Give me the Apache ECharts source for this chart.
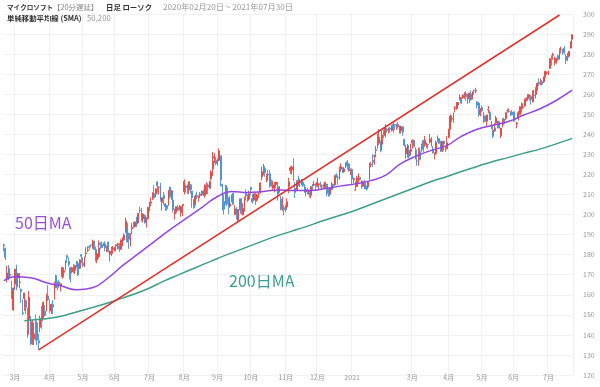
<!DOCTYPE html>
<html><head><meta charset="utf-8">
<script src="https://cdn.jsdelivr.net/npm/echarts@6/dist/echarts.min.js"></script>
<style>html,body{margin:0;padding:0;background:#fff}#c{width:600px;height:387px}</style>
</head><body><div id="c"></div>
<script>
// ---- categories (US trading days) ----
const startDate = '2020-02-20', endDate = '2021-07-23';
const holidays = ['2020-04-10','2020-05-25','2020-07-03','2020-09-07','2020-11-26','2020-12-25',
  '2021-01-01','2021-01-18','2021-02-15','2021-04-02','2021-05-31','2021-07-05'];
const hiddenMonthLabels = ['2021-02'];
const yTicks = {min: 120, max: 300, step: 10};

// ---- daily candles [open, close, low, high] ----
const candles = [
// 2020-02
[185.0,184.4,181.6,185.6],[183.2,178.6,177.3,183.5],[167.8,170.9,166.1,174.6],[174.2,168.1,167.3,174.8],[169.7,170.2,168.0,173.1],[163.3,158.2,158.1,167.0],[152.4,162.0,152.0,163.7],
// 2020-03
[165.3,172.8,162.3,172.9],[173.8,164.5,162.2,175.0],[168.5,170.6,163.8,170.7],[166.1,166.3,163.2,170.9],[162.6,161.6,156.0,163.1],[151.0,150.6,149.8,157.8],[158.2,160.9,152.0,161.0],[157.1,153.6,150.3,157.7],[145.3,139.1,138.6,153.5],[147.5,158.8,140.0,161.9],[140.0,135.4,135.0,149.4],[140.0,146.6,135.0,147.5],[138.0,140.4,135.0,146.0],[142.8,142.7,137.0,150.2],[146.0,137.4,135.0,147.1],[137.0,136.0,132.5,140.6],[143.8,148.3,141.3,149.6],[148.9,146.9,143.0,154.3],[148.4,156.1,148.4,156.7],[151.8,149.7,149.2,154.9],[152.4,160.2,151.7,160.6],[159.4,157.7,156.9,164.8],
// 2020-04
[153.0,152.1,150.8,157.8],[151.9,155.3,150.4,155.5],[155.1,153.8,150.4,157.4],[160.3,165.3,157.6,166.5],[169.6,163.5,163.3,170.0],[165.7,165.1,162.3,166.7],[166.4,165.1,163.5,167.4],[164.4,165.5,161.6,165.6],[169.0,173.7,168.0,173.8],[171.2,171.9,168.6,173.6],[174.3,177.0,172.1,177.1],[179.5,178.6,175.9,180.0],[176.6,175.1,174.0,178.7],[173.5,167.8,166.1,173.7],[171.4,173.5,170.7,174.0],[174.1,171.4,170.8,175.3],[172.1,174.6,170.3,175.0],[176.6,174.1,173.4,176.9],[175.6,169.8,169.4,175.7],[173.2,177.4,172.9,177.7],[180.0,179.2,175.9,180.4],
// 2020-05
[175.8,174.6,173.8,178.6],[174.5,178.8,173.8,179.0],[180.6,180.8,178.6,183.7],[182.1,182.5,181.2,184.2],[184.2,183.6,182.6,184.6],[184.9,184.7,183.6,185.0],[183.2,186.7,183.0,187.5],[186.8,182.5,182.5,187.0],[182.6,179.8,176.5,184.0],[177.5,180.5,175.7,180.7],[179.1,183.2,178.1,187.1],[185.8,184.9,182.7,186.2],[185.0,183.6,183.5,186.6],[184.8,185.7,184.3,186.0],[185.4,183.4,181.6,186.7],[183.2,183.5,181.3,184.5],[186.3,181.6,181.1,186.5],[180.2,181.8,176.6,181.8],[180.7,181.4,179.2,184.1],[182.7,183.3,180.4,184.3],
// 2020-06
[182.5,182.8,181.6,183.8],[184.3,184.9,181.8,185.0],[184.8,185.4,182.6,185.9],[184.3,182.9,181.3,185.8],[182.6,187.2,182.6,187.7],[185.9,188.4,184.2,188.6],[187.5,189.8,186.8,190.7],[191.1,196.8,191.0,198.5],[193.1,186.3,186.1,195.8],[190.5,187.7,182.9,191.0],[184.6,188.9,184.0,190.8],[192.9,193.6,190.3,195.8],[195.0,194.2,193.4,196.4],[194.0,196.3,193.5,196.5],[198.6,195.2,193.8,198.9],[195.8,200.6,195.8,200.8],[202.1,201.9,200.9,203.9],[201.6,197.8,196.6,203.3],[197.8,200.3,196.0,200.6],[199.7,196.3,195.4,199.9],[196.0,198.4,193.5,198.5],[197.9,203.5,197.9,204.0],
// 2020-07
[203.1,204.7,201.6,206.4],[205.7,206.3,204.0,208.6],[208.8,210.7,207.2,211.1],[210.4,208.3,207.9,214.7],[210.1,212.8,208.6,213.3],[216.3,214.3,210.9,216.4],[213.6,213.7,210.0,214.1],[214.5,207.1,206.5,215.8],[206.1,208.4,202.0,208.5],[209.6,208.0,204.9,211.3],[205.4,203.9,201.8,205.7],[204.5,202.9,201.9,204.9],[205.0,211.6,204.3,212.3],[213.7,208.8,208.0,213.9],[209.2,211.8,207.3,212.3],[207.2,202.5,201.0,210.9],[200.4,201.3,197.5,202.9],[201.5,203.9,200.8,204.0],[203.6,202.0,201.9,204.7],[202.5,204.1,202.1,204.7],[201.0,203.9,198.9,204.5],[204.4,205.0,199.3,205.1],
// 2020-08
[211.5,216.5,210.0,217.6],[214.2,213.3,211.1,214.8],[214.9,212.9,210.3,215.0],[212.3,216.4,210.3,216.4],[214.9,212.5,210.5,215.0],[211.7,208.3,203.4,211.7],[207.2,203.4,202.9,207.7],[205.3,209.2,204.5,210.0],[209.4,208.7,207.6,211.4],[208.8,208.9,206.4,209.6],[209.6,210.3,208.1,211.2],[210.5,211.5,209.2,212.0],[211.5,209.7,209.3,212.4],[209.5,214.6,208.4,215.0],[212.0,213.0,210.2,216.1],[214.8,213.7,210.1,215.6],[213.1,216.5,212.9,216.6],[217.9,221.2,216.9,222.1],[222.9,226.6,219.1,231.2],[228.2,228.9,225.6,230.6],[227.0,225.5,224.6,228.7],
// 2020-09
[225.5,227.3,224.4,228.0],[227.0,231.7,226.6,232.9],[229.3,217.3,214.0,229.3],[215.1,214.3,202.0,215.4],[206.5,202.7,200.0,210.0],[207.6,211.3,204.9,214.8],[213.4,205.4,204.2,214.7],[207.2,204.0,200.2,208.6],[204.2,205.4,203.4,209.2],[208.4,208.8,206.1,210.0],[210.6,205.1,205.0,210.9],[200.1,202.9,199.6,204.7],[202.8,200.4,197.5,203.7],[197.2,202.5,196.0,202.7],[205.1,207.4,202.1,208.1],[207.9,200.6,200.0,208.1],[199.9,203.2,199.6,205.6],[203.6,207.8,201.4,209.0],[210.9,209.4,206.9,212.6],[209.4,207.3,206.1,210.1],[207.7,210.3,207.0,211.9],
// 2020-10
[213.5,212.5,209.7,213.9],[208.0,206.2,205.5,210.2],[207.2,210.4,206.6,210.4],[208.8,205.9,204.8,210.8],[207.1,209.8,206.4,210.4],[210.5,210.6,208.3,211.2],[211.2,215.8,210.5,215.9],[218.8,221.4,217.1,223.9],[222.7,222.9,219.5,225.2],[223.0,220.9,218.8,224.2],[217.1,219.7,216.1,220.4],[220.2,219.7,219.1,222.3],[220.4,214.2,213.3,222.3],[215.8,214.7,213.6,217.4],[213.1,214.8,212.3,216.9],[213.9,214.9,211.1,216.1],[215.0,216.2,213.2,216.3],[213.9,210.1,207.0,216.3],[211.6,213.3,210.9,214.2],[207.7,202.7,202.1,209.3],[204.1,204.7,201.8,208.9],[203.5,202.5,199.6,204.6],
// 2020-11
[204.3,202.3,201.1,205.0],[203.9,206.4,203.0,208.1],[214.0,216.4,210.6,218.3],[222.0,223.3,220.3,224.1],[222.3,223.7,220.0,224.4],[224.5,218.4,216.8,228.1],[213.0,211.0,208.3,216.3],[212.4,216.6,212.4,217.0],[217.2,215.4,214.2,219.4],[216.4,216.5,213.8,217.8],[214.9,217.2,214.6,217.7],[216.1,214.5,213.8,217.7],[213.7,211.1,211.0,215.2],[211.4,212.4,209.1,213.0],[212.2,210.4,210.1,213.3],[210.9,210.1,208.5,212.3],[209.6,213.9,208.1,214.3],[215.1,213.9,211.9,215.3],[214.8,215.2,214.2,216.8],[214.1,214.1,211.8,215.6],
// 2020-12
[214.5,216.2,213.7,218.4],[214.9,215.4,212.6,215.5],[214.6,214.2,213.5,216.4],[214.2,214.4,212.5,215.0],[214.4,214.3,213.2,215.5],[213.5,216.0,212.9,216.5],[215.2,211.8,209.1,215.2],[211.8,210.5,208.9,213.1],[210.1,213.3,209.1,213.3],[213.1,214.2,212.1,216.2],[215.2,214.1,212.2,215.4],[214.8,219.3,214.5,219.6],[219.9,219.4,218.2,220.6],[218.6,218.6,214.8,219.6],[217.6,222.6,217.3,224.0],[222.7,223.9,221.2,225.6],[223.1,221.0,220.8,223.6],[221.4,222.8,221.2,223.6],[224.5,225.0,223.2,226.0],[226.3,224.2,222.4,227.2],[225.2,221.7,221.5,225.6],[221.7,222.4,219.7,223.0],
// 2021-01
[222.5,217.7,214.8,223.0],[217.3,217.9,215.5,218.5],[212.2,212.3,211.9,216.5],[214.0,218.3,213.7,219.3],[218.7,219.6,216.0,220.6],[218.5,217.5,216.9,218.9],[216.5,214.9,212.9,217.1],[214.0,216.3,213.9,216.8],[215.9,213.0,212.6,217.5],[213.5,212.7,212.0,214.5],[213.8,216.4,212.6,216.8],[217.7,224.3,217.3,225.8],[224.7,225.0,223.5,226.3],[227.1,226.0,223.7,230.1],[229.1,229.5,224.8,229.8],[231.9,232.3,228.6,234.2],[238.0,238.9,232.8,240.4],[235.6,238.5,234.6,242.6],[235.9,232.0,231.1,236.9],
// 2021-02
[235.1,239.7,232.4,242.3],[241.3,239.5,238.2,242.3],[239.6,243.0,238.4,245.1],[242.7,242.0,240.8,243.2],[242.2,242.2,240.4,243.3],[243.2,242.5,240.8,243.7],[241.9,243.8,241.4,244.8],[245.0,242.8,240.8,245.9],[244.8,244.5,242.1,245.2],[243.9,245.0,242.2,245.3],[245.0,243.7,242.8,246.1],[241.3,244.2,240.4,244.3],[241.8,243.8,240.4,243.9],[243.8,241.0,239.3,243.9],[237.4,234.5,233.9,237.9],[230.3,233.3,227.9,234.8],[230.0,234.6,228.3,235.2],[232.1,229.0,228.0,234.6],[231.5,232.4,229.4,235.4],
// 2021-03
[235.9,236.9,232.9,237.5],[237.0,233.9,233.8,237.3],[232.2,227.6,227.5,233.6],[226.7,226.7,224.3,232.5],[229.5,231.6,224.3,233.4],[231.4,227.4,227.1,233.4],[232.9,233.8,231.4,235.4],[237.0,232.4,231.1,237.0],[234.9,237.1,233.8,239.2],[234.0,235.8,233.2,235.8],[234.9,234.8,232.5,235.2],[236.2,237.7,235.4,240.1],[236.2,237.0,233.9,238.6],[232.6,230.7,230.5,234.2],[229.5,230.4,227.5,231.0],[230.3,236.0,229.9,236.8],[237.5,237.6,236.2,239.4],[237.9,235.5,235.4,238.0],[235.3,232.3,231.1,236.9],[231.6,236.5,231.2,236.7],[236.6,235.2,231.9,236.8],[233.5,231.9,231.1,233.9],[232.9,235.8,232.4,239.1],
// 2021-04
[238.5,242.4,238.1,242.8],[242.8,249.1,242.2,249.9],[247.6,247.9,246.1,249.4],[247.8,249.9,245.7,250.9],[252.8,253.3,251.0,254.1],[252.9,255.9,252.2,256.0],[254.7,255.9,253.6,256.0],[257.3,258.5,256.9,259.9],[257.5,255.6,255.1,258.8],[258.3,259.5,257.7,260.0],[259.5,260.7,257.8,261.0],[260.2,258.7,256.8,261.5],[257.8,258.3,255.2,260.2],[258.1,260.6,255.6,260.7],[260.2,257.2,256.8,261.8],[257.9,261.2,257.3,261.5],[261.7,261.6,259.7,262.4],[261.6,262.0,260.5,263.2],[256.1,254.6,252.9,256.5],[255.5,252.5,248.7,256.1],[249.7,252.2,249.0,253.1],
// 2021-05
[253.4,251.9,251.1,254.4],[250.0,247.8,245.6,251.2],[249.1,246.5,246.3,249.5],[246.5,249.7,244.2,249.8],[252.2,252.5,250.5,254.1],[250.9,247.2,247.1,251.7],[244.6,246.2,242.6,246.6],[242.2,239.0,238.1,244.4],[241.8,243.0,241.2,245.6],[245.6,248.2,245.3,249.2],[246.6,245.2,243.0,246.6],[246.3,243.1,242.9,246.4],[239.3,243.1,238.1,243.2],[243.9,246.5,243.4,247.9],[247.6,245.2,244.8,248.3],[247.8,250.8,247.1,251.2],[251.8,251.7,250.8,252.8],[251.4,251.5,250.8,252.9],[251.2,249.3,249.1,251.5],[251.0,249.7,249.6,252.1],
// 2021-06
[251.2,247.4,246.3,251.3],[248.1,247.3,246.3,248.9],[245.2,245.7,243.0,246.3],[247.8,250.8,246.9,251.7],[249.9,253.8,249.8,254.0],[255.2,252.6,250.8,256.0],[253.4,253.6,252.5,255.5],[254.3,257.2,253.6,257.8],[257.4,257.9,256.5,258.5],[257.9,259.9,256.7,259.9],[259.8,258.4,256.8,260.0],[258.9,257.4,254.8,259.6],[256.1,260.9,256.0,262.0],[259.6,259.4,258.8,262.3],[259.8,262.6,257.9,263.5],[262.7,265.5,261.8,265.8],[265.9,265.3,264.0,267.9],[266.2,266.7,264.5,267.8],[266.2,265.0,264.3,267.2],[266.2,268.7,265.5,268.9],[269.0,271.4,268.1,271.7],[270.7,270.9,269.7,271.4],
// 2021-07
[269.6,271.6,269.6,271.8],[272.8,277.7,272.8,278.0],[278.0,277.7,274.3,279.4],[279.4,279.9,277.2,280.7],[276.9,277.4,274.3,278.7],[275.7,277.9,275.2,278.1],[279.2,277.3,276.6,279.8],[277.5,281.0,277.3,282.9],[282.4,282.5,280.3,283.7],[282.0,281.0,279.5,282.5],[282.9,280.8,280.0,284.1],[278.9,277.0,275.0,280.0],[278.0,279.3,276.5,280.7],[278.9,281.4,278.2,281.5],[283.0,286.1,282.8,286.4],[287.4,289.7,286.0,289.9]
];

// ---- moving averages ----
const ma50 = [
['2020-02-20',167.0],['2020-03-02',169.0],['2020-03-16',168.5],['2020-03-30',166.0],['2020-04-13',164.5],
['2020-04-27',162.5],['2020-05-11',163.5],['2020-05-26',168.5],['2020-06-08',174.5],['2020-06-22',180.5],
['2020-07-07',186.5],['2020-07-21',192.5],['2020-08-04',198.0],['2020-08-18',203.5],['2020-09-01',209.0],
['2020-09-15',211.5],['2020-09-29',211.0],['2020-10-13',211.5],['2020-10-27',212.3],['2020-11-10',212.0],
['2020-11-24',212.0],['2020-12-08',213.0],['2020-12-22',214.3],['2021-01-06',215.3],['2021-01-20',216.8],
['2021-02-03',219.5],['2021-02-17',225.0],['2021-03-03',229.0],['2021-03-17',232.0],['2021-03-31',234.5],
['2021-04-14',239.0],['2021-04-28',242.5],['2021-05-12',244.5],['2021-05-26',246.5],['2021-06-09',249.5],
['2021-06-23',252.5],['2021-07-08',256.5],['2021-07-23',262.0]
];
const ma200 = [
['2020-03-10',147.0],['2020-03-24',147.8],['2020-04-07',148.8],['2020-04-21',150.5],['2020-05-05',152.8],
['2020-05-19',155.0],['2020-06-02',157.3],['2020-06-16',160.0],['2020-06-30',163.0],['2020-07-15',166.8],
['2020-07-29',170.2],['2020-08-12',173.5],['2020-08-26',176.8],['2020-09-10',180.0],['2020-09-24',183.0],
['2020-10-08',186.0],['2020-10-22',189.0],['2020-11-05',191.5],['2020-11-19',194.0],['2020-12-03',196.5],
['2020-12-17',199.0],['2021-01-04',201.5],['2021-01-19',204.5],['2021-02-02',207.5],['2021-02-17',210.5],
['2021-03-03',213.5],['2021-03-17',216.5],['2021-03-31',219.0],['2021-04-14',221.5],['2021-04-28',224.0],
['2021-05-12',226.5],['2021-05-26',228.5],['2021-06-09',230.5],['2021-06-23',232.5],['2021-07-08',235.0],
['2021-07-23',238.0]
];
const trendLine = [['2020-03-23',132.5],['2021-07-13',299.5]];

// ---- build trading-day categories ----
const dates = [];
{
  const hs = new Set(holidays);
  let t = Date.parse(startDate + 'T00:00:00Z');
  const end = Date.parse(endDate + 'T00:00:00Z');
  while (t <= end) {
    const d = new Date(t);
    const wd = d.getUTCDay();
    const s = d.toISOString().slice(0, 10);
    if (wd !== 0 && wd !== 6 && !hs.has(s)) dates.push(s);
    t += 86400000;
  }
}
const monthStarts = new Set();
for (let i = 1; i < dates.length; i++) {
  if (dates[i].slice(0, 7) !== dates[i - 1].slice(0, 7) && !hiddenMonthLabels.includes(dates[i].slice(0, 7))) monthStarts.add(i);
}

const FONT = '"Noto Sans CJK JP", "Noto Sans", sans-serif';
const hdr = (x, y, text, font, fill) => ({type: 'text', x, y, style: {text, font: font + ' ' + FONT, fill, verticalAlign: 'middle', align: 'left'}});
const chart = echarts.init(document.getElementById('c'), null, {renderer: 'canvas'});
chart.setOption({
  animation: false,
  backgroundColor: '#ffffff',
  textStyle: {fontFamily: FONT},
  grid: {left: 3, right: 27, top: 14, bottom: 12, containLabel: false},
  xAxis: {
    type: 'category', data: dates, boundaryGap: true,
    axisLine: {show: false}, axisTick: {show: false},
    axisLabel: {
      interval: (i) => monthStarts.has(i), margin: -1, fontSize: 7, color: '#999',
      fontFamily: FONT,
      formatter: (v) => { const m = +v.slice(5, 7); return m === 1 ? v.slice(0, 4) : m + '月'; }
    },
    splitLine: {show: true, interval: (i) => monthStarts.has(i), lineStyle: {color: '#f1f1f1', width: 1}}
  },
  yAxis: {
    type: 'value', position: 'right', min: yTicks.min, max: yTicks.max, interval: yTicks.step,
    axisLine: {show: false}, axisTick: {show: false},
    axisLabel: {margin: 10, fontSize: 7, color: '#999', fontFamily: FONT},
    splitLine: {show: true, lineStyle: {color: '#f1f1f1', width: 1}}
  },
  series: [
    {
      type: 'candlestick', data: candles, barWidth: 1.4,
      itemStyle: {color: '#e2463e', color0: '#4a8fd6', borderColor: '#e2463e', borderColor0: '#4a8fd6', borderWidth: 0.9}
    },
    {type: 'line', data: ma50, smooth: true, symbol: 'none', lineStyle: {color: '#9446e0', width: 1.5}},
    {type: 'line', data: ma200, smooth: true, symbol: 'none', lineStyle: {color: '#3f9e86', width: 1.5}},
    {type: 'line', data: trendLine, symbol: 'none', lineStyle: {color: '#e3302a', width: 1.5}, z: 5}
  ],
  graphic: [
    hdr(7, 7, 'マイクロソフト', 'bold 6.6px', '#333'),
    hdr(53, 7, '【20分遅延】', '7.4px', '#888'),
    hdr(106, 7, '日足 ローソク', 'bold 7.4px', '#333'),
    hdr(163, 7, '2020年02月20日 ~ 2021年07月30日', '8.2px', '#999'),
    hdr(7, 18.5, '単純移動平均線 (SMA)', 'bold 7.4px', '#333'),
    hdr(87, 18.5, '50,200', '7.8px', '#999'),
    {type: 'text', left: 15, top: 215, style: {text: '50日MA', font: '16px ' + FONT, fill: '#9a4fd8'}},
    {type: 'text', left: 229, top: 273, style: {text: '200日MA', font: '16px ' + FONT, fill: '#3a9e90'}}
  ]
});
</script>
</body></html>
